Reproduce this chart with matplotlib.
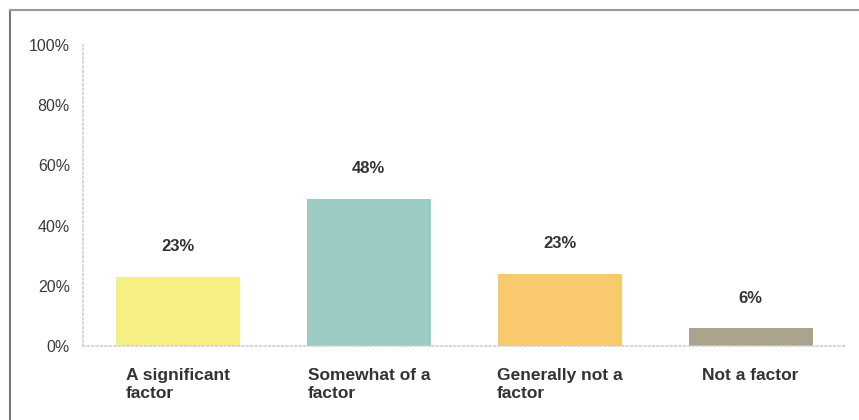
import matplotlib.pyplot as plt
from matplotlib.lines import Line2D

categories = ['A significant\nfactor', 'Somewhat of a\nfactor', 'Generally not a\nfactor', 'Not a factor']
values = [23, 49, 24, 6]
value_labels = ['23%', '48%', '23%', '6%']
colors = ['#f6ef84', '#9ccbc4', '#f9c96e', '#aba48c']
yticks = [0, 20, 40, 60, 80, 100]

plt.rcParams['font.family'] = ['Liberation Sans', 'DejaVu Sans']

fig = plt.figure(figsize=(8.59, 4.2), dpi=100)
ax = fig.add_axes([82.5 / 859, (420 - 346) / 420, (846 - 82.5) / 859, 301 / 420])

x = range(len(categories))
bars = ax.bar(x, values, width=0.65, color=colors, zorder=2)

# value labels about 30 px above each bar
for b, lab in zip(bars, value_labels):
    ax.annotate(lab, (b.get_x() + b.get_width() / 2, b.get_height()),
                xytext=(0, 21.5), textcoords='offset points',
                ha='center', va='center', fontsize=12, fontweight='bold', color='#333333')

ax.set_xlim(-0.5, len(categories) - 0.5)
ax.set_ylim(0, 100)
ax.set_yticks(yticks)
ax.set_yticklabels([f'{t}%' for t in yticks], fontsize=11.5, color='#3a3a3a')
ax.set_xticks(list(x))
ax.set_xticklabels(categories, fontsize=12.5, fontweight='bold', color='#333333',
                   multialignment='left', linespacing=1.25)
ax.tick_params(axis='y', length=0, pad=9)
ax.tick_params(axis='x', length=0, pad=16)

for side in ['top', 'right']:
    ax.spines[side].set_visible(False)
for side in ['left', 'bottom']:
    ax.spines[side].set_color('#d0d0d0')
    ax.spines[side].set_linestyle(':')
    ax.spines[side].set_linewidth(1.2)

# outer frame of the scanned chart (left and top edges)
fig.add_artist(Line2D([10 / 859, 10 / 859], [0, 1 - 10 / 420], color='#777777', lw=1.5))
fig.add_artist(Line2D([10 / 859, 1], [1 - 10 / 420, 1 - 10 / 420], color='#999999', lw=1.5))

fig.savefig('out.png', dpi=100)
